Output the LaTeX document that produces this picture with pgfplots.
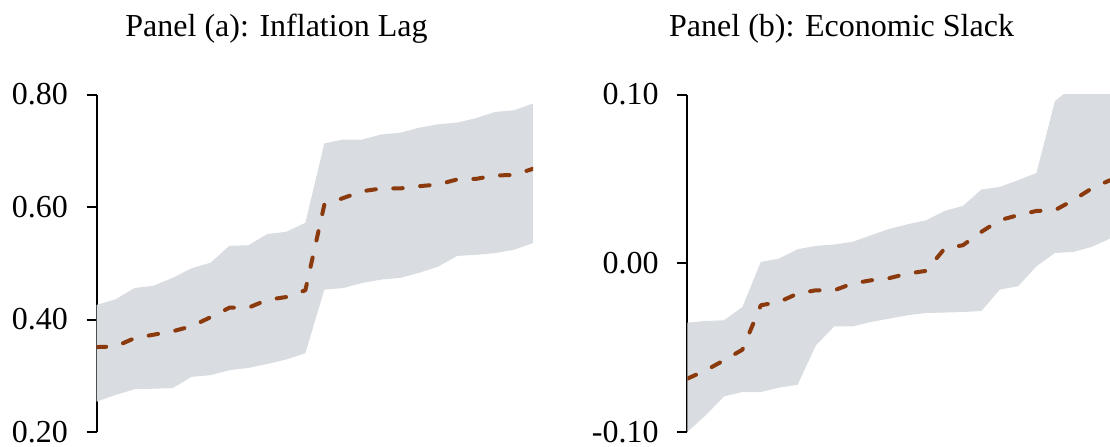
\documentclass[border=0pt]{standalone}
\usepackage{fontspec}
\setmainfont{Liberation Serif}
\usepackage{pgfplots}
\pgfplotsset{compat=1.18}
\usepgfplotslibrary{fillbetween}
\usepackage{pgfplotstable}
\definecolor{bandgray}{RGB}{217,220,224}
\definecolor{est}{RGB}{139,58,14}

\pgfplotstableread{
x lo mid hi
0 0.254 0.351 0.426
1 0.266 0.352 0.436
2 0.276 0.367 0.456
3 0.277 0.373 0.460
4 0.278 0.379 0.474
5 0.298 0.388 0.491
6 0.301 0.404 0.501
7 0.310 0.421 0.531
8 0.314 0.421 0.532
9 0.321 0.435 0.552
10 0.329 0.440 0.556
11 0.340 0.452 0.572
12 0.453 0.604 0.713
13 0.456 0.616 0.720
14 0.465 0.628 0.720
15 0.471 0.633 0.729
16 0.474 0.633 0.732
17 0.483 0.637 0.741
18 0.494 0.640 0.747
19 0.513 0.649 0.750
20 0.515 0.650 0.758
21 0.518 0.656 0.769
22 0.524 0.657 0.772
23 0.536 0.668 0.784
}\panela

\pgfplotstableread{
x lo mid hi
0 -0.1000 -0.0684 -0.0352
1 -0.0901 -0.0635 -0.0342
2 -0.0789 -0.0575 -0.0338
3 -0.0763 -0.0512 -0.0259
4 -0.0763 -0.0249 0.0008
5 -0.0737 -0.0229 0.0028
6 -0.0720 -0.0180 0.0083
7 -0.0486 -0.0160 0.0103
8 -0.0374 -0.0160 0.0111
9 -0.0374 -0.0120 0.0127
10 -0.0348 -0.0101 0.0166
11 -0.0328 -0.0088 0.0204
12 -0.0308 -0.0061 0.0231
13 -0.0295 -0.0045 0.0255
14 -0.0292 0.0087 0.0310
15 -0.0289 0.0107 0.0340
16 -0.0283 0.0186 0.0437
17 -0.0156 0.0255 0.0452
18 -0.0136 0.0285 0.0492
19 -0.0018 0.0310 0.0535
20 0.0061 0.0314 0.0960
21 0.0067 0.0374 0.1050
22 0.0097 0.0443 0.1080
23 0.0146 0.0492 0.1100
}\panelb

\pgfplotsset{
  panelstyle/.style={
    anchor=south west, scale only axis,
    height=168.75pt,
    xmin=0, xmax=23,
    axis x line=none, axis y line*=left,
    axis line style={line width=1pt, black},
    tick align=outside, major tick length=5pt,
    every tick/.style={line width=1pt, black},
    yticklabel style={font=\fontsize{16}{19}\selectfont, inner sep=0pt, xshift=-9.2pt,
      /pgf/number format/.cd, fixed, fixed zerofill, precision=2, assume math mode=true},
  },
  estline/.style={est, line width=2pt, line cap=round, line join=round, dash pattern=on 4.75pt off 8.75pt},
}

\begin{document}
\begin{tikzpicture}[x=1pt,y=1pt]
\path (0,0) rectangle (555,223);
\begin{axis}[panelstyle,
  at={(48.35pt,7pt)}, width=218.15pt,
  ymin=0.2, ymax=0.8, ytick={0.2,0.4,0.6,0.8}]
  \addplot[name path=upa, draw=none] table[x=x, y=hi] {\panela};
  \addplot[name path=loa, draw=none] table[x=x, y=lo] {\panela};
  \addplot[bandgray, draw=none] fill between[of=upa and loa];
  \addplot[estline] table[x=x, y=mid] {\panela};
\end{axis}
\begin{axis}[panelstyle,
  at={(343.65pt,7pt)}, width=211.35pt,
  ymin=-0.1, ymax=0.1, ytick={-0.1,0,0.1}]
  \addplot[name path=upb, draw=none] table[x=x, y=hi] {\panelb};
  \addplot[name path=lob, draw=none] table[x=x, y=lo] {\panelb};
  \addplot[bandgray, draw=none] fill between[of=upb and lob];
  \addplot[estline] table[x=x, y=mid] {\panelb};
\end{axis}
\node[anchor=base west, inner sep=0pt, font=\fontsize{16}{19}\selectfont] at (62.5,204.65) {Panel (a): Inflation Lag};
\node[anchor=base west, inner sep=0pt, font=\fontsize{16}{19}\selectfont] at (334.4,204.65) {Panel (b): Economic Slack};
\end{tikzpicture}
\end{document}
